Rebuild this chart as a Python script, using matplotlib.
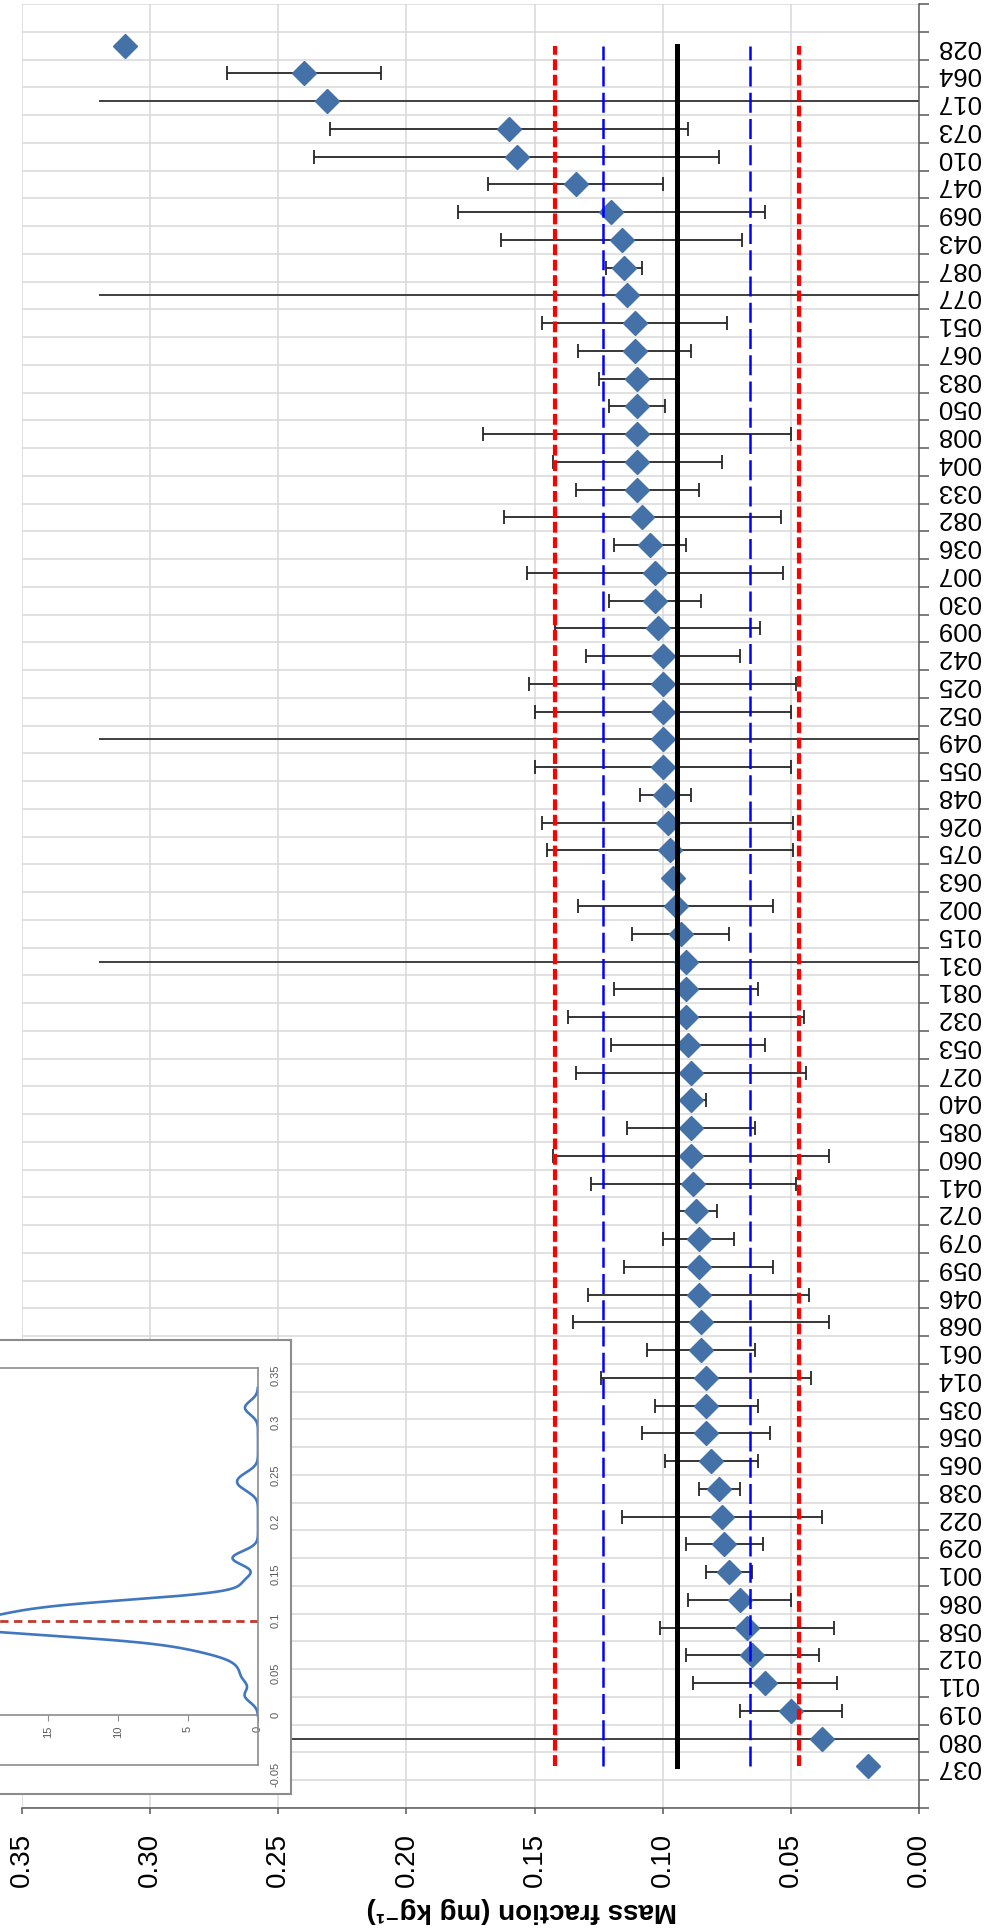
import numpy as np
import matplotlib
matplotlib.use('Agg')
import matplotlib.pyplot as plt

plt.rcParams['font.family'] = ['Liberation Sans', 'DejaVu Sans']

# laboratory codes, lowest result first
labs = ['037', '080', '019', '011', '012', '058', '086', '001', '029', '022',
        '038', '065', '056', '035', '014', '061', '068', '046', '059', '079',
        '072', '041', '060', '085', '040', '027', '053', '032', '081', '031',
        '015', '002', '063', '075', '026', '048', '055', '049', '052', '025',
        '042', '009', '030', '007', '036', '082', '033', '004', '008', '050',
        '083', '067', '051', '077', '087', '043', '069', '047', '010', '073',
        '017', '064', '028']
# reported mass fraction, mg/kg
values = [0.020, 0.038, 0.050, 0.060, 0.065, 0.067, 0.070, 0.074, 0.076, 0.077,
          0.078, 0.081, 0.083, 0.083, 0.083, 0.085, 0.085, 0.086, 0.086, 0.086,
          0.087, 0.088, 0.089, 0.089, 0.089, 0.089, 0.090, 0.091, 0.091, 0.091,
          0.093, 0.095, 0.096, 0.097, 0.098, 0.099, 0.100, 0.100, 0.100, 0.100,
          0.100, 0.102, 0.103, 0.103, 0.105, 0.108, 0.110, 0.110, 0.110, 0.110,
          0.110, 0.111, 0.111, 0.114, 0.115, 0.116, 0.120, 0.134, 0.157, 0.160,
          0.231, 0.240, 0.310]
# expanded uncertainty (0 = not reported)
unc = [0, 0, 0.020, 0.028, 0.026, 0.034, 0.020, 0.009, 0.015, 0.039,
       0.008, 0.018, 0.025, 0.020, 0.041, 0.021, 0.050, 0.043, 0.029, 0.014,
       0.008, 0.040, 0.054, 0.025, 0.006, 0.045, 0.030, 0.046, 0.028, 0,
       0.019, 0.038, 0, 0.048, 0.049, 0.010, 0.050, 0, 0.050, 0.052,
       0.030, 0.040, 0.018, 0.050, 0.014, 0.054, 0.024, 0.033, 0.060, 0.011,
       0.015, 0.022, 0.036, 0, 0.007, 0.047, 0.060, 0.034, 0.079, 0.070,
       0, 0.030, 0]
flagged = ['017', '077', '049', '031', '080']

consensus = 0.0946
band_inner = 0.0287
band_outer = 0.0476
kde_bw = 0.0068

values = np.array(values)
unc = np.array(unc)
pos = np.arange(len(labs))

W, H = 992, 1933
fig = plt.figure(figsize=(W / 100, H / 100), dpi=100)


def fx(px):
    return px / W


def fy(py):
    return 1 - py / H


# main chart, value axis horizontal (reversed), labs stacked upwards
ax = fig.add_axes([fx(22), fy(1809), fx(919) - fx(22), fy(5) - fy(1809)])
ax.set_xlim(0.35, 0)
ax.set_ylim(-1.5, len(labs) + 0.5)

ax.set_xticks(np.arange(0, 0.351, 0.05))
ax.set_xticklabels(['{:.2f}'.format(t) for t in np.arange(0, 0.351, 0.05)])
ax.set_yticks(pos)
ax.set_yticklabels(labs)
ax.set_yticks(np.arange(-1.5, len(labs) + 0.6, 1), minor=True)
ax.yaxis.tick_right()

ax.xaxis.grid(True, color='#d9d9d9', lw=1.1)
ax.yaxis.grid(True, which='minor', color='#d9d9d9', lw=1.1)
ax.yaxis.grid(False, which='major')
ax.set_axisbelow(True)

for s in ['left', 'top']:
    ax.spines[s].set_visible(False)
for s in ['right', 'bottom']:
    ax.spines[s].set_color('#595959')
    ax.spines[s].set_linewidth(1.1)

ax.tick_params(axis='x', length=4, width=1.1, color='#595959', pad=13,
               labelsize=20, labelrotation=90)
ax.tick_params(axis='y', which='major', length=0, pad=13, labelsize=18.5,
               labelrotation=180)
ax.tick_params(axis='y', which='minor', length=7, width=1.1, color='#595959',
               direction='out')
for lbl in ax.get_yticklabels():
    lbl.set_va('center')

# labs without uncertainty marked across the plot
ax.hlines([pos[labs.index(l)] for l in flagged], 0, 0.32, color='#404040',
          lw=1.4, zorder=2)

has_unc = unc > 0
ax.errorbar(values[has_unc], pos[has_unc], xerr=unc[has_unc], fmt='none',
            ecolor='#262626', elinewidth=1.3, capsize=5, capthick=1.3, zorder=4)
ax.plot(values, pos, 'D', ms=12, color='#4472a8', mec='#4472a8', zorder=5)

span = [pos[0], pos[-1]]
ax.plot([consensus] * 2, span, color='black', lw=3.6, zorder=6)
for d in (-band_inner, band_inner):
    ax.plot([consensus + d] * 2, span, color='#0000ff', lw=1.8,
            dashes=(8, 2.5), zorder=6)
for d in (-band_outer, band_outer):
    ax.plot([consensus + d] * 2, span, color='#ff0000', lw=3.0,
            dashes=(2.6, 1.1), zorder=6)

fig.text(fx(522), fy(1910), 'Mass fraction (mg kg⁻¹)', rotation=180,
         ha='center', va='center', fontsize=20, fontweight='bold')

# kernel density inset
frame = fig.add_axes([fx(-10), fy(1795), fx(291) - fx(-10), fy(1341) - fy(1795)])
frame.set_xticks([])
frame.set_yticks([])
frame.set_facecolor('white')
for s in frame.spines.values():
    s.set_color('#8c8c8c')
    s.set_linewidth(1.5)
frame.set_zorder(10)

dmax = 25
inner = fig.add_axes([fx(258 - dmax * 14), fy(1766),
                      fx(258) - fx(258 - dmax * 14), fy(1369) - fy(1766)])
inner.set_zorder(11)
inner.set_facecolor('white')
inner.set_xlim(dmax, 0)
inner.set_ylim(-0.05, 0.35)

grid = np.linspace(0, 0.33, 500)
dens = np.exp(-0.5 * ((grid[:, None] - values[None, :]) / kde_bw) ** 2).sum(1)
dens /= len(values) * kde_bw * np.sqrt(2 * np.pi)
inner.plot(dens, grid, color='#4177c0', lw=1.9)
inner.plot([0, dmax], [consensus] * 2, color='#c0392b', lw=2.0, dashes=(3, 2))

inner.spines['bottom'].set_position(('data', 0))
inner.axhline(-0.05, color='#8c8c8c', lw=1.2, clip_on=False)
for s in inner.spines.values():
    s.set_color('#8c8c8c')
    s.set_linewidth(1.2)
inner.spines['left'].set_visible(False)

inner.set_xticks([0, 5, 10, 15])
inner.set_xticklabels(['0', '5', '10', '15'])
inner.yaxis.tick_right()
yt = np.arange(-0.05, 0.351, 0.05)
inner.set_yticks(yt)
inner.set_yticklabels(['-0.05', '0', '0.05', '0.1', '0.15', '0.2', '0.25',
                       '0.3', '0.35'])
inner.tick_params(axis='x', length=4, color='#8c8c8c', labelcolor='#595959',
                  labelsize=8, labelrotation=90, pad=3)
inner.tick_params(axis='y', length=0, labelcolor='#595959', labelsize=8,
                  labelrotation=90, pad=9)

fig.savefig('out.png', dpi=100)
